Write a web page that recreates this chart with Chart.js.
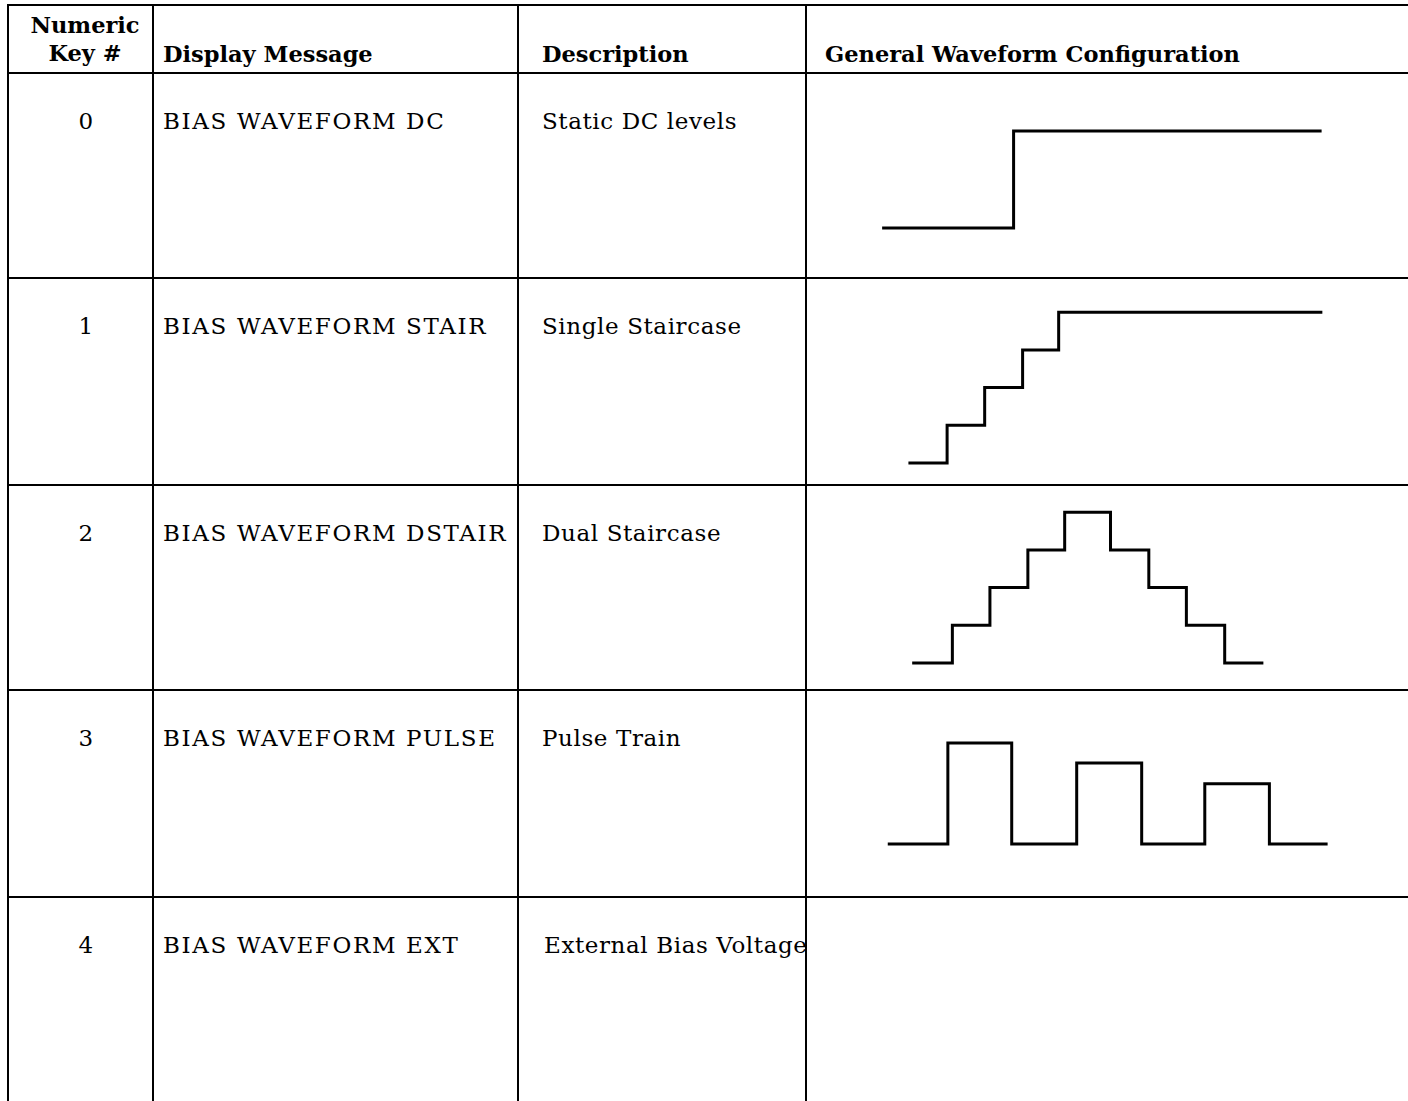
<!DOCTYPE html>
<html>
<head>
<meta charset="utf-8">
<script src="https://cdn.jsdelivr.net/npm/chart.js@4/dist/chart.umd.min.js"></script>
<style>
  body { margin: 0; background: #fff; width: 1408px; height: 1101px; overflow: hidden; position: relative; font-family: "DejaVu Serif", serif; color: #000; }
  .hl { position: absolute; background: #000; height: 2px; left: 7px; right: 0; }
  .vl { position: absolute; background: #000; width: 2px; top: 5px; bottom: 0; }
  .t { position: absolute; font-size: 23px; line-height: 1; white-space: nowrap; letter-spacing: 0.6px; }
  .msg { letter-spacing: 1.65px; }
  .h { font-weight: bold; font-size: 22.5px; letter-spacing: 0; }
  .n { width: 140px; margin-left: -70px; text-align: center; }
  .wave { position: absolute; left: 807px; }
</style>
</head>
<body>
<!-- table rules -->
<div class="hl" style="top:4px"></div>
<div class="hl" style="top:72px"></div>
<div class="hl" style="top:277px"></div>
<div class="hl" style="top:484px"></div>
<div class="hl" style="top:689px"></div>
<div class="hl" style="top:896px"></div>
<div class="vl" style="left:7px"></div>
<div class="vl" style="left:152px"></div>
<div class="vl" style="left:517px"></div>
<div class="vl" style="left:805px"></div>

<!-- header -->
<div class="t h n" style="left:85px;top:14px">Numeric</div>
<div class="t h n" style="left:85px;top:42px">Key #</div>
<div class="t h" style="left:163px;top:43px">Display Message</div>
<div class="t h" style="left:542px;top:43px">Description</div>
<div class="t h" style="left:825px;top:43px">General Waveform Configuration</div>

<div id="rows"></div>

<script>
// table text
const keys = ["0", "1", "2", "3", "4"];
const messages = [
  "BIAS WAVEFORM DC",
  "BIAS WAVEFORM STAIR",
  "BIAS WAVEFORM DSTAIR",
  "BIAS WAVEFORM PULSE",
  "BIAS WAVEFORM EXT",
];
const descriptions = [
  "Static DC levels",
  "Single Staircase",
  "Dual Staircase",
  "Pulse Train",
  "External Bias Voltage",
];

// waveforms: step start times and levels (one unit = one stair step)
const dcTimes = [2, 5.5, 13.7];
const dcLevels = [0, 2.57, 2.57];
const stairTimes = [2.7, 3.73, 4.73, 5.74, 6.7, 13.72];
const stairLevels = [0, 1, 2, 3, 4, 4];
const dualTimes = [2.8, 3.87, 4.87, 5.88, 6.86, 8.08, 9.1, 10.1, 11.12, 12.15];
const dualLevels = [0, 1, 2, 3, 4, 3, 2, 1, 0, 0];
const pulseTimes = [2.15, 3.75, 5.45, 7.18, 8.91, 10.59, 12.31, 13.86];
const pulseLevels = [0, 2.68, 0, 2.15, 0, 1.6, 0, 0];

// row geometry
const rowTops = [73, 278, 485, 690, 897];
const textDrop = 37; // row top -> text box top
const cellW = 601;
const xSpan = 16;
const unitY = 37.7;

const rowsEl = document.getElementById("rows");
rowTops.forEach((top, i) => {
  let k = document.createElement("div");
  k.className = "t n";
  k.style.left = "86px";
  k.style.top = top + textDrop + "px";
  k.textContent = keys[i];
  rowsEl.appendChild(k);

  let m = document.createElement("div");
  m.className = "t msg";
  m.style.left = "163px";
  m.style.top = top + textDrop + "px";
  m.textContent = messages[i];
  rowsEl.appendChild(m);

  let d = document.createElement("div");
  d.className = "t";
  d.style.left = (i == 4 ? 544 : 542) + "px";
  d.style.top = top + textDrop + "px";
  d.textContent = descriptions[i];
  rowsEl.appendChild(d);
});

const waves = [
  { times: dcTimes, levels: dcLevels, top: 73, height: 205, base: 155 },
  { times: stairTimes, levels: stairLevels, top: 278, height: 207, base: 185 },
  { times: dualTimes, levels: dualLevels, top: 485, height: 205, base: 178 },
  { times: pulseTimes, levels: pulseLevels, top: 690, height: 207, base: 154 },
];

waves.forEach((w) => {
  const canvas = document.createElement("canvas");
  canvas.className = "wave";
  canvas.width = cellW;
  canvas.height = w.height;
  canvas.style.top = w.top + "px";
  document.body.appendChild(canvas);

  const yMax = w.base / unitY;
  new Chart(canvas, {
    type: "line",
    data: {
      datasets: [
        {
          data: w.times.map((t, i) => ({ x: t, y: w.levels[i] })),
          stepped: true,
          borderColor: "#000",
          borderWidth: 3,
          pointRadius: 0,
          fill: false,
          borderCapStyle: "butt",
          borderJoinStyle: "miter",
        },
      ],
    },
    options: {
      responsive: false,
      animation: false,
      layout: { padding: 0 },
      plugins: { legend: { display: false }, tooltip: { enabled: false } },
      scales: {
        x: { type: "linear", min: 0, max: xSpan, display: false },
        y: { min: yMax - w.height / unitY, max: yMax, display: false },
      },
    },
  });
});
</script>
</body>
</html>
